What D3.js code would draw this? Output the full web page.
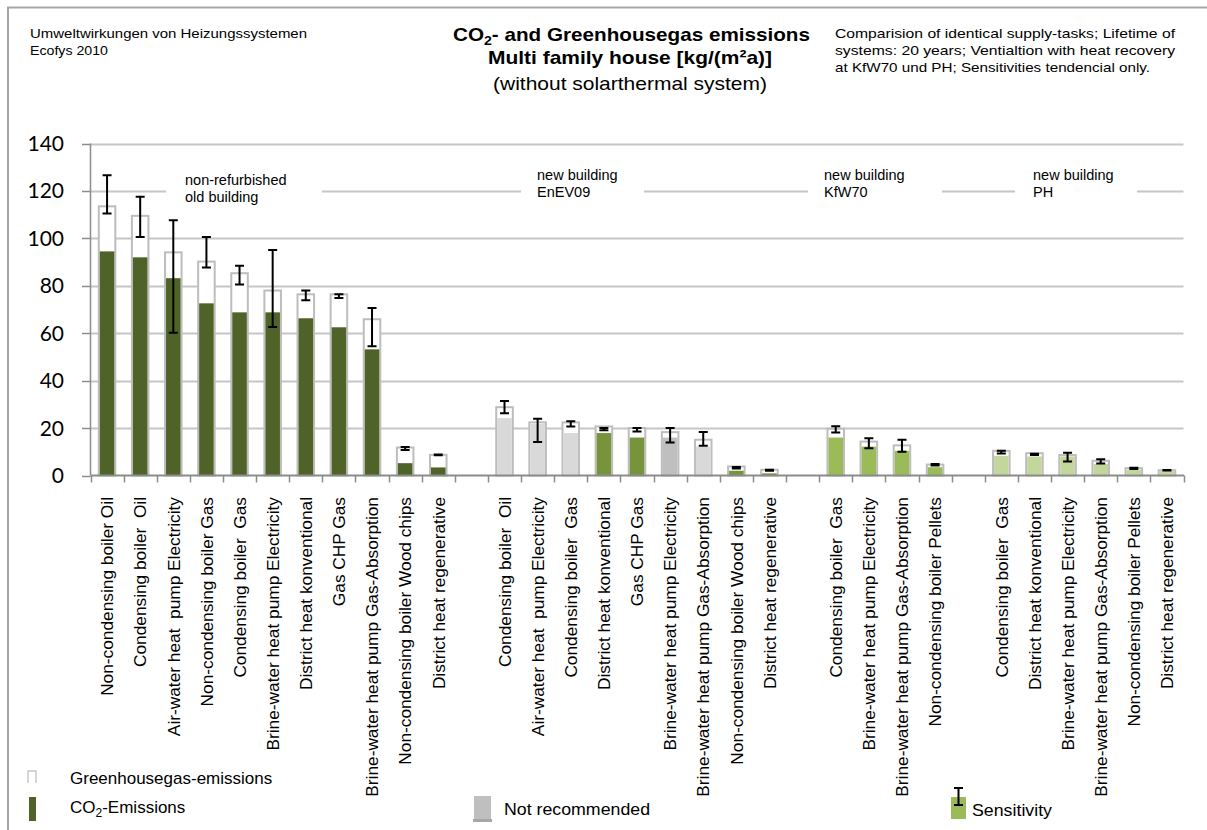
<!DOCTYPE html>
<html><head><meta charset="utf-8">
<script src="https://cdn.jsdelivr.net/npm/d3@7"></script>
<style>
body{margin:0;background:#fff}
svg{display:block}
text{font-family:"Liberation Sans",Arial,sans-serif;fill:#000}
.narrow{font-family:"Liberation Sans Narrow","Arial Narrow","Liberation Sans",Arial,sans-serif}
</style>
</head><body>
<svg id="c" width="1207" height="830"></svg>
<script>
// ---------- DATA ----------
const categories = [
  "Non-condensing boiler Oil","Condensing boiler  Oil","Air-water heat  pump Electricity","Non-condensing boiler Gas","Condensing boiler  Gas","Brine-water heat pump Electricity","District heat konventional","Gas CHP Gas","Brine-water heat pump Gas-Absorption","Non-condensing boiler Wood chips","District heat regenerative",
  "Condensing boiler  Oil","Air-water heat  pump Electricity","Condensing boiler  Gas","District heat konventional","Gas CHP Gas","Brine-water heat pump Electricity","Brine-water heat pump Gas-Absorption","Non-condensing boiler Wood chips","District heat regenerative",
  "Condensing boiler  Gas","Brine-water heat pump Electricity","Brine-water heat pump Gas-Absorption","Non-condensing boiler Pellets",
  "Condensing boiler  Gas","District heat konventional","Brine-water heat pump Electricity","Brine-water heat pump Gas-Absorption","Non-condensing boiler Pellets","District heat regenerative"
];
const groupOf = [0,0,0,0,0,0,0,0,0,0,0, 1,1,1,1,1,1,1,1,1, 2,2,2,2, 3,3,3,3,3,3];
const groupLine1 = ["non-refurbished","new building","new building","new building"];
const groupLine2 = ["old building","EnEV09","KfW70","PH"];
const ghgValues = [113.5,109.5,94.1,90.2,85.3,78.0,76.4,76.4,65.9,11.8,8.7,
                   28.8,22.4,22.4,20.7,20.0,18.3,15.1,3.8,2.4,
                   19.7,14.3,12.7,4.6,
                   10.4,9.4,8.6,6.2,3.1,2.2];
const co2Values = [94.5,92.0,83.2,72.6,68.8,68.8,66.3,62.5,53.2,5.2,3.4,
                   24.2,21.8,17.9,17.9,16.0,16.0,12.2,2.0,0.9,
                   16.0,12.2,10.4,3.5,
                   8.3,8.0,8.0,4.9,2.4,1.8];
const sensHigh = [126.6,117.5,107.6,100.6,88.5,95.1,78.0,76.4,70.6,12.0,8.9,
                  31.4,23.9,22.9,20.0,20.0,20.0,18.3,3.6,2.4,
                  20.8,15.7,15.1,4.8,
                  10.4,9.2,9.6,6.9,3.3,2.3];
const sensLow  = [110.5,100.6,60.2,87.7,80.5,62.6,73.9,74.8,54.5,10.8,8.5,
                  26.3,14.1,20.7,19.1,18.6,13.9,12.5,3.0,2.0,
                  18.1,11.5,10.0,4.2,
                  9.3,8.6,5.9,5.1,2.7,2.1];
// bar kind: old = old building, nr = not recommended, nr2 = not recommended (darker), enev, kfw, ph
const barKind = ["old","old","old","old","old","old","old","old","old","old","old",
                 "nr","nr","nr","enev","enev","nr2","nr","enev","enev",
                 "kfw","kfw","kfw","kfw",
                 "ph","ph","ph","ph","ph","ph"];
const yTicks = [0,20,40,60,80,100,120,140];

const kindColor = {old:"#4f6228", nr:"#d9d9d9", nr2:"#bfbfbf", enev:"#77933c", kfw:"#9bbb59", ph:"#c3d69b"};

// ---------- LAYOUT ----------
const svg = d3.select("#c");
const slots = [];
categories.forEach((c,i)=>{
  if (i>0 && groupOf[i]!==groupOf[i-1]) slots.push("gap"+groupOf[i]);
  slots.push("c"+i);
});
const x = d3.scaleBand().domain(slots).range([90.5,1183.5]).paddingInner(0.44).paddingOuter(0.22);
const y = d3.scaleLinear().domain([0,140]).range([475.5,143.5]);
const bw = x.bandwidth();
const step = x.step();
const x0 = x.range()[0];

// frame
svg.append("path").attr("d","M8,830 V7.5 H1207").attr("fill","none").attr("stroke","#a6a6a6").attr("stroke-width",2);

// header texts
const hdr = svg.append("g").attr("class","narrow");
hdr.append("text").attr("x",30).attr("y",38).attr("font-size",13.5).attr("textLength",277).attr("lengthAdjust","spacingAndGlyphs").text("Umweltwirkungen von Heizungssystemen");
hdr.append("text").attr("x",30).attr("y",55).attr("font-size",13.5).attr("textLength",78).attr("lengthAdjust","spacingAndGlyphs").text("Ecofys 2010");

const t1 = hdr.append("text").attr("x",453).attr("y",41).attr("font-size",19).attr("font-weight","bold").attr("textLength",357).attr("lengthAdjust","spacingAndGlyphs");
t1.append("tspan").text("CO");
t1.append("tspan").attr("font-size",13).attr("dy",4).text("2");
t1.append("tspan").attr("dy",-4).text("- and Greenhousegas emissions");
hdr.append("text").attr("x",630).attr("y",64).attr("text-anchor","middle").attr("font-size",19).attr("font-weight","bold").attr("textLength",284).attr("lengthAdjust","spacingAndGlyphs").text("Multi family house [kg/(m²a)]");
hdr.append("text").attr("x",630).attr("y",90).attr("text-anchor","middle").attr("font-size",19).attr("textLength",274).attr("lengthAdjust","spacingAndGlyphs").text("(without solarthermal system)");

hdr.append("text").attr("x",835).attr("y",38).attr("font-size",13.5).attr("textLength",340).attr("lengthAdjust","spacingAndGlyphs").text("Comparision of identical supply-tasks; Lifetime of");
hdr.append("text").attr("x",835).attr("y",55).attr("font-size",13.5).attr("textLength",340).attr("lengthAdjust","spacingAndGlyphs").text("systems: 20 years; Ventialtion with heat recovery");
hdr.append("text").attr("x",835).attr("y",72).attr("font-size",13.5).attr("textLength",315).attr("lengthAdjust","spacingAndGlyphs").text("at KfW70 und PH; Sensitivities tendencial only.");

// gridlines
svg.append("g").selectAll("line").data(yTicks.filter(d=>d>0)).join("line")
  .attr("x1",90.5).attr("x2",1183.5).attr("y1",d=>Math.round(y(d))+0.5).attr("y2",d=>Math.round(y(d))+0.5)
  .attr("stroke","#c6c6c6").attr("stroke-width",2);

// group annotation boxes (white, covering grid line)
const boxes = [[166,322,185],[521,644,537],[808,942,824],[1015,1137,1033]];
const gl = svg.append("g");
boxes.forEach((b,i)=>{
  gl.append("rect").attr("x",b[0]).attr("y",165).attr("width",b[1]-b[0]).attr("height",42).attr("fill","#fff");
  const dy = i===0?5:0;
  gl.append("text").attr("x",b[2]).attr("y",180+dy).attr("font-size",14.5).text(groupLine1[i]);
  gl.append("text").attr("x",b[2]).attr("y",197+dy).attr("font-size",14.5).text(groupLine2[i]);
});

// bars
const idx = d3.range(categories.length);
const bars = svg.append("g");
bars.selectAll("rect.ghg").data(idx).join("rect").attr("class","ghg")
  .attr("x",i=>x("c"+i)+1).attr("width",bw-2)
  .attr("y",i=>y(ghgValues[i])).attr("height",i=>y(0)-y(ghgValues[i]))
  .attr("fill","#fff").attr("stroke","#bdbdbd").attr("stroke-width",2);
bars.selectAll("rect.co2").data(idx).join("rect").attr("class","co2")
  .attr("x",i=>x("c"+i)+2).attr("width",bw-4)
  .attr("y",i=>y(co2Values[i])).attr("height",i=>y(0)-y(co2Values[i]))
  .attr("fill",i=>kindColor[barKind[i]]);

// sensitivity (error bars)
const eb = svg.append("g").attr("stroke","#000").attr("stroke-width",2).attr("fill","none");
idx.forEach(i=>{
  const cx = x("c"+i)+bw/2;
  const yh = y(sensHigh[i]), yl = y(sensLow[i]);
  eb.append("path").attr("d",`M${cx},${yh}V${yl}M${cx-4.5},${yh}H${cx+4.5}M${cx-4.5},${yl}H${cx+4.5}`);
});

// y axis
const ya = svg.append("g");
ya.append("line").attr("x1",90.5).attr("x2",90.5).attr("y1",y(140)).attr("y2",y(0)).attr("stroke","#8c8c8c").attr("stroke-width",1.5);
ya.selectAll("line.t").data(yTicks).join("line").attr("class","t")
  .attr("x1",82).attr("x2",90.5).attr("y1",d=>Math.round(y(d))+0.5).attr("y2",d=>Math.round(y(d))+0.5).attr("stroke","#8c8c8c").attr("stroke-width",1.5);
ya.selectAll("text").data(yTicks).join("text")
  .attr("x",64).attr("y",d=>y(d)).attr("dy","0.36em").attr("text-anchor","end")
  .attr("font-size",21).style("font-family","Lato,'Liberation Sans',sans-serif").text(d=>d);

// x axis
const xa = svg.append("g");
xa.append("line").attr("x1",90.5).attr("x2",1184).attr("y1",y(0)).attr("y2",y(0)).attr("stroke","#8c8c8c").attr("stroke-width",2);
xa.selectAll("line.t").data(d3.range(slots.length+1)).join("line").attr("class","t")
  .attr("x1",d=>Math.round(x0+d*step)+0.5).attr("x2",d=>Math.round(x0+d*step)+0.5)
  .attr("y1",y(0)).attr("y2",y(0)+7).attr("stroke","#8c8c8c").attr("stroke-width",1.5);
xa.selectAll("text").data(idx).join("text")
  .attr("transform",i=>`translate(${x("c"+i)+bw/2},497) rotate(-90)`)
  .attr("dy","0.36em").attr("text-anchor","end").attr("font-size",17.3)
  .style("white-space","pre").text(i=>categories[i]);

// legend
const lg = svg.append("g");
lg.append("path").attr("d","M28,783 V771 H36 V783").attr("fill","#fff").attr("stroke","#c8c8c8").attr("stroke-width",1.5);
lg.append("text").attr("x",70).attr("y",784).attr("font-size",17).text("Greenhousegas-emissions");
lg.append("rect").attr("x",29).attr("y",797).attr("width",7).attr("height",24).attr("fill",kindColor.old);
const lt = lg.append("text").attr("x",70).attr("y",813).attr("font-size",17);
lt.append("tspan").text("CO");
lt.append("tspan").attr("font-size",12).attr("dy",4).text("2");
lt.append("tspan").attr("dy",-4).text("-Emissions");
lg.append("rect").attr("x",474).attr("y",796).attr("width",17).attr("height",24).attr("fill",kindColor.nr2);
lg.append("rect").attr("x",473).attr("y",819).attr("width",19).attr("height",3).attr("fill","#a6a6a6");
lg.append("text").attr("x",504).attr("y",815).attr("font-size",17).attr("class","narrow").attr("textLength",146).attr("lengthAdjust","spacingAndGlyphs").text("Not recommended");
lg.append("rect").attr("x",951).attr("y",797).attr("width",15).attr("height",22).attr("fill",kindColor.kfw);
lg.append("path").attr("d","M958.5,788V805M954,788H963M954,805H963").attr("stroke","#000").attr("stroke-width",2).attr("fill","none");
lg.append("text").attr("x",972).attr("y",816).attr("font-size",17).attr("class","narrow").attr("textLength",80).attr("lengthAdjust","spacingAndGlyphs").text("Sensitivity");
</script>
</body></html>
